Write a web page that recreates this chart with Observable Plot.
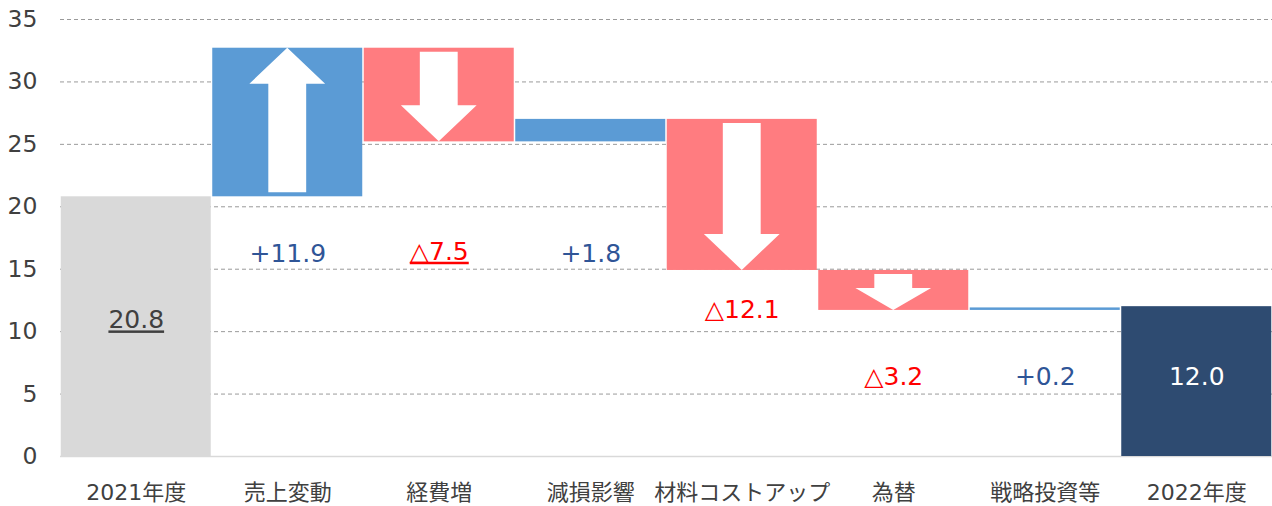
<!DOCTYPE html>
<html><head><meta charset="utf-8">
<script src="https://cdn.jsdelivr.net/npm/d3@7"></script>
<script src="https://cdn.jsdelivr.net/npm/@observablehq/plot@0.6"></script>
<style>
body{margin:0;background:#fff;}
#chart svg{display:block;}
.ul text{text-decoration:underline;}
</style></head><body><div id="chart"></div>
<script>
const categories = ["2021年度","売上変動","経費増","減損影響","材料コストアップ","為替","戦略投資等","2022年度"];
const kinds = ["total","delta","delta","delta","delta","delta","delta","total"];
const values = [20.8, 11.9, -7.5, 1.8, -12.1, -3.2, 0.2, 12.0];
const labels = ["20.8","+11.9","△7.5","+1.8","△12.1","△3.2","+0.2","12.0"];
const labelY = [10.9, 16.2, 16.4, 16.2, 11.7, 6.4, 6.4, 6.4];
const yTicks = [0,5,10,15,20,25,30,35];

const BLUE = "#5B9BD5", RED = "#FF7C80", GRAY = "#D9D9D9", NAVY = "#2E4B71";

let run = 0;
const rows = categories.map((cat, i) => {
  let start, end;
  if (kinds[i] === "total") { start = 0; end = values[i]; run = values[i]; }
  else { start = run; end = run + values[i]; run = end; }
  return {cat, kind: kinds[i], value: values[i], start, end, label: labels[i], ly: labelY[i], i};
});
const barFill = d => d.kind === "total" ? (d.i === 0 ? GRAY : NAVY) : (d.value >= 0 ? BLUE : RED);
const textFill = d => d.kind === "total" ? (d.i === 0 ? "#404040" : "#ffffff") : (d.value >= 0 ? "#2F5597" : "#FF0000");
const underlined = d => d.i === 0 || d.cat === "経費増";
const arrowRows = rows.filter(d => d.kind === "delta" && Math.abs(d.value) >= 3);

function arrowRender(index, scales, values, dimensions, context) {
  const bw = scales.x.bandwidth();
  const g = d3.create("svg:g");
  for (const i of index) {
    const d = arrowRows[i];
    const cx = scales.x(d.cat) + bw / 2;
    const ys = scales.y(d.start), ye = scales.y(d.end);
    const dir = Math.sign(ye - ys);
    const len = Math.abs(ye - ys);
    const headLen = Math.min(36, 0.55 * len);
    const tail = ys + dir * 4;
    const tip = ye;
    const hb = tip - dir * headLen;
    const sw = bw * 0.125, hw = bw * 0.25;
    const pts = [[cx - sw, tail], [cx + sw, tail], [cx + sw, hb], [cx + hw, hb], [cx, tip], [cx - hw, hb], [cx - sw, hb]];
    g.append("polygon").attr("points", pts.map(p => p.join(",")).join(" ")).attr("fill", "#ffffff");
  }
  return g.node();
}

const FONT = "'DejaVu Sans', 'Noto Sans CJK JP', sans-serif";

const chart = Plot.plot({
  width: 1272,
  height: 506,
  marginLeft: 60,
  marginRight: 0,
  marginTop: 19,
  marginBottom: 50,
  style: {fontFamily: FONT, color: "#404040", background: "#fff"},
  x: {domain: categories, padding: 0, round: false, label: null},
  y: {domain: [0, 35], label: null},
  color: {type: "identity"},
  marks: [
    Plot.gridY(yTicks.filter(t => t > 0), {stroke: "#9a9a9a", strokeOpacity: 1, strokeDasharray: "4,3", strokeWidth: 1}),
    Plot.ruleY([0], {stroke: "#d9d9d9", strokeWidth: 1.5}),
    Plot.barY(rows, {x: "cat", y1: "start", y2: "end", fill: barFill, insetLeft: 0.75, insetRight: 0.75}),
    Plot.barY(arrowRows, {x: "cat", y1: "start", y2: "end", render: arrowRender}),
    Plot.text(rows.filter(d => !underlined(d)), {x: "cat", y: "ly", text: "label", fill: textFill, fontSize: 25}),
    Plot.text(rows.filter(underlined), {x: "cat", y: "ly", text: "label", fill: textFill, fontSize: 25, className: "ul"}),
    Plot.axisY({ticks: yTicks, tickSize: 0, tickPadding: 23, fontSize: 23.5, label: null}),
    Plot.axisX({tickSize: 0, tickPadding: 28, fontSize: 22, label: null})
  ]
});
document.getElementById("chart").append(chart);
</script></body></html>
